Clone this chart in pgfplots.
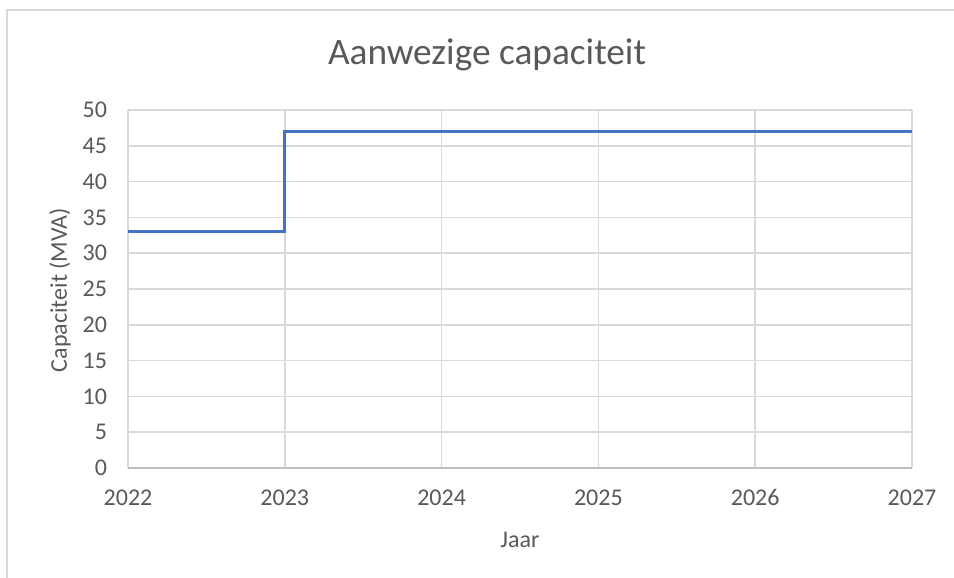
\documentclass[border=0pt]{standalone}
\usepackage{fontspec}
\setmainfont{Carlito}
\usepackage{pgfplots}
\pgfplotsset{compat=1.18}
\definecolor{txt}{HTML}{595959}
\definecolor{gridc}{HTML}{D9D9D9}
\definecolor{axc}{HTML}{BFBFBF}
\definecolor{serie}{HTML}{4472C4}
\begin{document}
\begin{tikzpicture}[x=1pt,y=1pt]
\begin{axis}[name=ax, at={(0,0)}, anchor=south west, scale only axis,
  width=588pt, height=268.5pt,
  xmin=2022, xmax=2027, ymin=0, ymax=50,
  xtick={2022,2023,2024,2025,2026,2027},
  ytick={0,5,10,15,20,25,30,35,40,45,50},
  axis line style={draw=none},
  major tick length=0pt,
  grid=major,
  grid style={draw=gridc, line width=1.2pt},
  /pgf/number format/.cd, 1000 sep={}, assume math mode=true, /pgfplots/.cd,
  ticklabel style={font=\fontsize{18}{20}\selectfont, text=txt},
  yticklabel style={inner sep=0pt, xshift=-15.5pt},
  xticklabel style={inner sep=0pt, yshift=-16pt},
  clip=false,
]
\draw[axc, line width=1.4pt] (rel axis cs:0,0) -- (rel axis cs:1,0);
\addplot[const plot, serie, line width=2.3pt, mark=none] coordinates {
  (2022,33) (2023,47) (2027,47)
};
\end{axis}
\node[text=txt, font=\fontsize{28}{30}\selectfont] at (269.25,309.75) {Aanwezige capaciteit};
\node[text=txt, font=\fontsize{18}{20}\selectfont] at (294,-54) {Jaar};
\node[text=txt, font=\fontsize{18}{20}\selectfont, rotate=90] at (-51,133.5) {Capaciteit (MVA)};
\draw[gridc, line width=1.5pt] (-91.1,-90) -- (-91.1,343.5) -- (630,343.5);
\pgfresetboundingbox
\path[use as bounding box] (-96,-82.5) rectangle (619.5,351);
\end{tikzpicture}
\end{document}
